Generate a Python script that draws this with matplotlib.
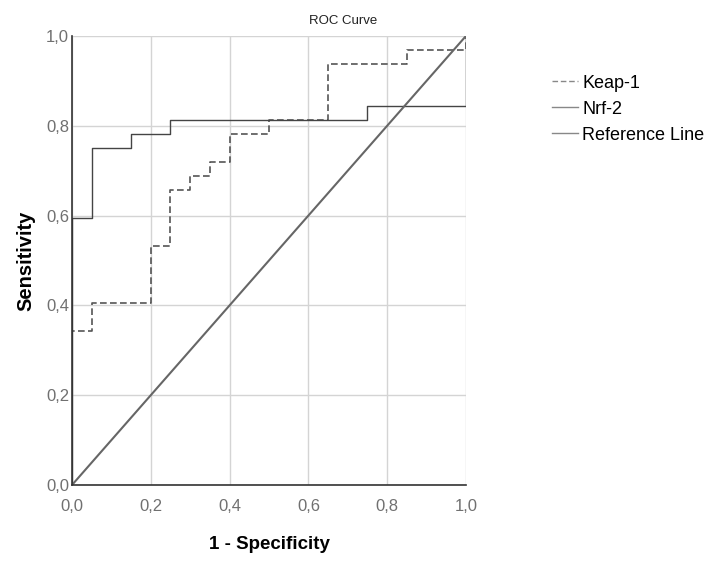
import matplotlib
matplotlib.use("Agg")
import matplotlib.pyplot as plt
from matplotlib.ticker import FuncFormatter

plt.rcParams['font.family'] = ['Liberation Sans', 'DejaVu Sans']

# ROC vertices (steps-post)
keap_fpr = [0, 0, 0.05, 0.20, 0.25, 0.30, 0.35, 0.40, 0.50, 0.65, 0.85, 1.0]
keap_tpr = [0, 0.34375, 0.40625, 0.53125, 0.65625, 0.6875, 0.71875, 0.78125, 0.8125, 0.9375, 0.96875, 1.0]
nrf_fpr = [0, 0, 0.05, 0.15, 0.25, 0.75, 1.0]
nrf_tpr = [0, 0.59375, 0.75, 0.78125, 0.8125, 0.84375, 1.0]
ref_x = [0, 1]
ref_y = [0, 1]

fig = plt.figure(figsize=(7.15, 5.61), dpi=100)
ax = fig.add_axes([0.1007, 0.1355, 0.551, 0.8004])

ax.plot(keap_fpr, keap_tpr, drawstyle='steps-post', color='#555555', lw=1.2,
        dashes=(4, 2), label='Keap-1')
ax.plot(nrf_fpr, nrf_tpr, drawstyle='steps-post', color='#444444', lw=1.0,
        label='Nrf-2')
ax.plot(ref_x, ref_y, color='#666666', lw=1.5, label='Reference Line')

ax.set_xlim(0, 1)
ax.set_ylim(0, 1)
ticks = [0, 0.2, 0.4, 0.6, 0.8, 1.0]
ax.set_xticks(ticks)
ax.set_yticks(ticks)
fmt = FuncFormatter(lambda v, p: f"{v:.1f}".replace('.', ','))
ax.xaxis.set_major_formatter(fmt)
ax.yaxis.set_major_formatter(fmt)
ax.tick_params(length=0, labelsize=12, labelcolor='#707070')
ax.tick_params(axis='x', pad=10)
ax.tick_params(axis='y', pad=2)
ax.grid(True, color='#d4d4d4', lw=1)
ax.set_axisbelow(True)
for s in ['top', 'right']:
    ax.spines[s].set_visible(False)
for s in ['left', 'bottom']:
    ax.spines[s].set_color('#333333')
    ax.spines[s].set_linewidth(1.2)

ax.set_xlabel('1 - Specificity', fontsize=13.5, fontweight='bold', labelpad=16)
ax.set_ylabel('Sensitivity', fontsize=14.5, fontweight='bold', labelpad=8)
fig.text(0.48, 0.963, 'ROC Curve', ha='center', va='center', fontsize=9.5, color='#222222')

leg = fig.legend(loc='upper left', bbox_to_anchor=(0.749, 0.896), frameon=False,
                 fontsize=13, handlelength=1.45, handletextpad=0.25, labelspacing=0.5)
for h in leg.get_lines():
    h.set_color('#888888')
    h.set_linewidth(1.0)

fig.savefig('out.png', dpi=100)
